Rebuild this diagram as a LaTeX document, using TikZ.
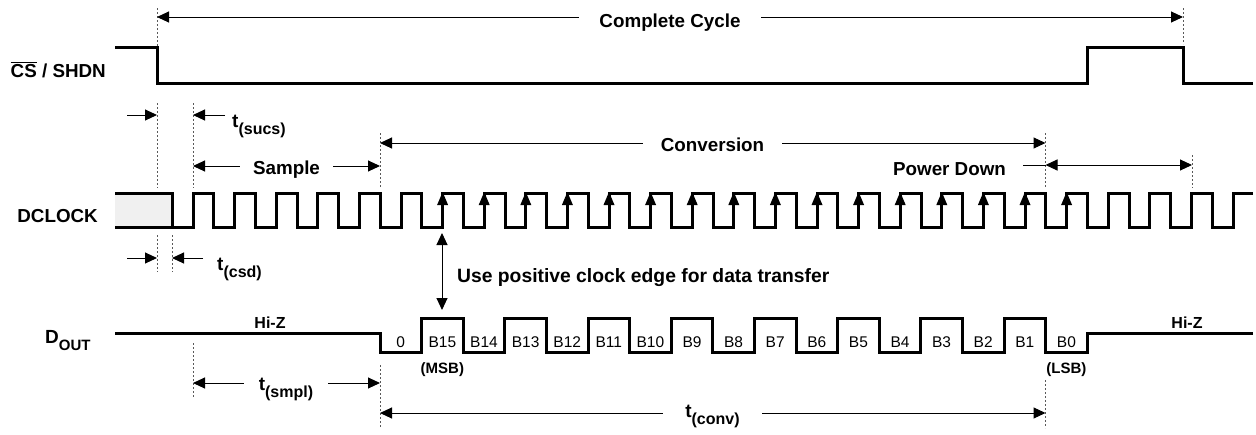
\documentclass[tikz,border=0pt]{standalone}
\usepackage{fontspec}
\setmainfont{Liberation Sans}
\usetikzlibrary{arrows.meta}
\newcommand{\tlab}[1]{{\fontsize{19}{19}\selectfont\bfseries t}\raisebox{-7pt}{\fontsize{16}{16}\selectfont\bfseries (#1)}}
\tikzset{
  sig/.style={line width=3pt, line join=miter},
  dimline/.style={line width=1pt},
  guide/.style={line width=0.8pt, gray!70!black, dash pattern=on 2pt off 2pt},
  lbl/.style={font=\fontsize{18.8}{22}\selectfont\bfseries, inner sep=0pt},
  hiz/.style={font=\fontsize{16}{18}\selectfont\bfseries, inner sep=0pt},
  bit/.style={font=\fontsize{15.5}{18}\selectfont, inner sep=0pt},
  gap/.style={fill=white, inner ysep=3pt},
  >={Triangle[length=12pt,width=11pt]}
}
\begin{document}
\begin{tikzpicture}[x=1pt,y=-1pt]
\useasboundingbox (0,0) rectangle (1256,434);

% ---------- guides (dotted) ----------
\draw[guide] (157,8) -- (157,46);
\draw[guide] (1183,8) -- (1183,44);
\draw[guide] (157,103) -- (157,188);
\draw[guide] (193,103) -- (193,188);
\draw[guide] (380,133) -- (380,188);
\draw[guide] (1045.5,133) -- (1045.5,188);
\draw[guide] (1192,155) -- (1192,188);
\draw[guide] (157,235) -- (157,272);
\draw[guide] (172,235) -- (172,272);
\draw[guide] (193,343) -- (193,398);
\draw[guide] (380,365) -- (380,428);
\draw[guide] (1045.5,380) -- (1045.5,428);

% ---------- CS / SHDN ----------
\node[lbl, anchor=base east] (cslbl) at (106,77) {$\overline{\mbox{CS}}$ / SHDN};
\draw[sig] (115,47) -- (157,47) -- (157,83) -- (1087,83) -- (1087,47) -- (1183,47) -- (1183,83) -- (1253,83);

% Complete cycle
\draw[dimline,<->] (157,17) -- (1183,17);
\node[lbl, gap, inner xsep=20pt, anchor=base] (cc) at (670,27) {Complete Cycle};

% t(sucs)
\draw[dimline,->] (127,115) -- (157,115);
\draw[dimline,->] (225,115) -- (193,115);
\node[inner sep=0pt, anchor=base west] (tsucs) at (232,127) {\tlab{sucs}};

% Sample
\draw[dimline,<->] (193,166) -- (380,166);
\node[lbl, gap, inner xsep=13pt, anchor=base] (smp) at (286.5,174) {Sample};

% Conversion
\draw[dimline,<->] (380,143) -- (1045.5,143);
\node[lbl, gap, inner xsep=18pt, anchor=base] (conv) at (712.5,151) {Conversion};

% Power down
\node[lbl, anchor=base] (pd) at (949.5,175) {Power Down};
\draw[dimline] (1023,165) -- (1045.5,165);
\draw[dimline,<->] (1045.5,165) -- (1192,165);

% ---------- DCLOCK ----------
\node[lbl, anchor=base east] (dclbl) at (98,222) {DCLOCK};
\fill[gray!12] (115,193) rectangle (172,227);
\draw[sig] (115,193) -- (172,193) -- (172,227);
\draw[sig] (115,227) -- (172,227)
  foreach \k in {0,...,24} { -- ({193+41.6*\k},227) -- ({193+41.6*\k},193) -- ({213.8+41.6*\k},193) -- ({213.8+41.6*\k},227) }
  -- (1233,227) -- (1233,193) -- (1253,193);
\foreach \k in {6,...,21}
  \fill ({193+41.6*\k-5.5},205) -- ({193+41.6*\k+5.5},205) -- ({193+41.6*\k},192) -- cycle;

% t(csd)
\draw[dimline,->] (127,258) -- (157,258);
\draw[dimline,->] (203,258) -- (172,258);
\node[inner sep=0pt, anchor=base west] (tcsd) at (217,270) {\tlab{csd}};

% positive edge note
\draw[dimline,<->] (442,233) -- (442,310);
\node[lbl, font=\fontsize{19.3}{22}\selectfont\bfseries, anchor=base west] (note) at (457,282) {Use positive clock edge for data transfer};

% ---------- DOUT ----------
\node[inner sep=0pt, anchor=base west] (dolbl) at (45,343) {\fontsize{19}{19}\selectfont\bfseries D\raisebox{-7pt}{\fontsize{15}{15}\selectfont OUT}};
\draw[sig] (115,333) -- (380,333) -- (380,352)
  foreach \m in {0,...,7} { -- ({421.6+83.2*\m},352) -- ({421.6+83.2*\m},318) -- ({463.2+83.2*\m},318) -- ({463.2+83.2*\m},352) }
  -- (1087.2,352) -- (1087.2,333) -- (1253,333);
\node[hiz, anchor=base] (hz1) at (270,328) {Hi-Z};
\node[hiz, anchor=base] (hz2) at (1187,328) {Hi-Z};
\foreach \c/\t in {0/0,1/B15,2/B14,3/B13,4/B12,5/B11,6/B10,7/B9,8/B8,9/B7,10/B6,11/B5,12/B4,13/B3,14/B2,15/B1,16/B0}
  \node[bit, anchor=base] (bit\c) at ({400.8+41.6*\c},347) {\t};
\node[hiz, font=\fontsize{15}{18}\selectfont\bfseries, anchor=base] (msb) at (442.4,373) {(MSB)};
\node[hiz, font=\fontsize{15}{18}\selectfont\bfseries, anchor=base] (lsb) at (1066.4,373) {(LSB)};

% t(smpl)
\draw[dimline,<->] (193,383) -- (380,383);
\node[gap, inner xsep=15pt, anchor=base] (tsmpl) at (286,390) {\tlab{smpl}};

% t(conv)
\draw[dimline,<->] (380,413) -- (1045.5,413);
\node[gap, inner xsep=22pt, anchor=base] (tconv) at (712.5,417) {\tlab{conv}};
\end{tikzpicture}
\end{document}
